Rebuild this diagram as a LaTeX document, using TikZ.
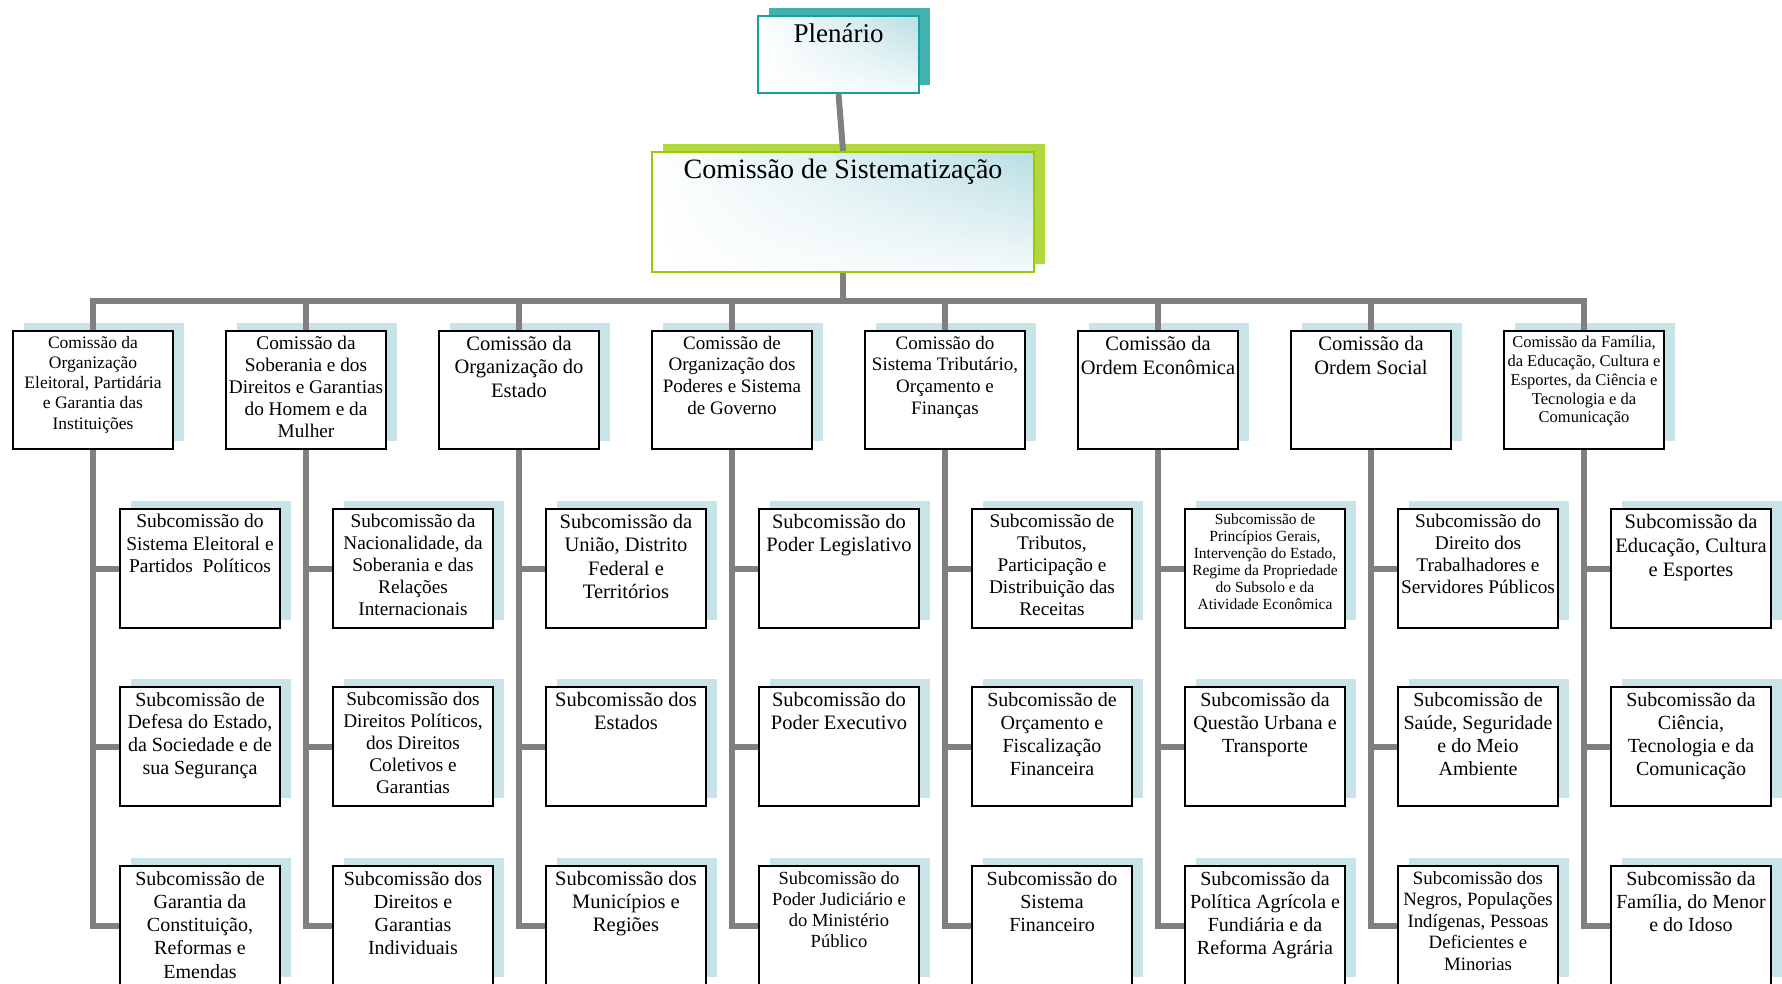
\documentclass[tikz,border=0pt]{standalone}
\usepackage{fontspec}
\setmainfont{Liberation Serif}
\usetikzlibrary{shadows,shadings}
\definecolor{linegray}{HTML}{808080}
\definecolor{csh}{HTML}{C8E4E8}
\definecolor{plensh}{HTML}{40B2B2}
\definecolor{plenbd}{HTML}{18A0A0}
\definecolor{sistsh}{HTML}{B2D840}
\definecolor{sistbd}{HTML}{99CC00}
\definecolor{tealfill}{HTML}{B8DEE3}
\newcommand\mkbox[6]{%
  \node[#2] (#1) at (#3,#4) {};
  \node[txt, font=#5, anchor=north] (#1t) at ([yshift=-6pt]#1.north) {#6};
}
\newcommand\fsz[2]{\fontsize{#1}{#2}\selectfont}
\begin{document}
\begin{tikzpicture}[x=1pt,y=-1pt,
  conn/.style={draw=linegray, line width=6pt},
  txt/.style={inner sep=0pt, align=center, text=black},
  commbox/.style={rectangle, draw=black, line width=2pt, fill=white,
    minimum width=160pt, minimum height=118pt, inner sep=0pt,
    drop shadow={shadow xshift=11pt, shadow yshift=8pt, fill=csh, opacity=1}},
  subbox/.style={rectangle, draw=black, line width=2pt, fill=white,
    minimum width=160pt, minimum height=119pt, inner sep=0pt,
    drop shadow={shadow xshift=11pt, shadow yshift=8pt, fill=csh, opacity=1}},
  gradfill/.style={path picture={\shade[upper left=white, upper right=tealfill,
      lower left=white, lower right=white!85!tealfill]
      (path picture bounding box.south west) rectangle (path picture bounding box.north east);}},
  plenbox/.style={rectangle, draw=plenbd, line width=2.3pt, fill=white, gradfill,
    minimum width=161pt, minimum height=77pt, inner sep=0pt,
    drop shadow={shadow xshift=11pt, shadow yshift=8pt, fill=plensh, opacity=1}},
  sistbox/.style={rectangle, draw=sistbd, line width=2.5pt, fill=white, gradfill,
    minimum width=382pt, minimum height=120pt, inner sep=0pt,
    drop shadow={shadow xshift=11pt, shadow yshift=8pt, fill=sistsh, opacity=1}},
]
\useasboundingbox (0,0) rectangle (1782,984);

% top
\node[plenbox] (plen) at (838.5,54.5) {};
\node[txt, font=\fsz{27}{31}, anchor=north] (plent) at ([yshift=-9pt]plen.north) {Plenário};
\node[sistbox] (sist) at (843,212) {};
\node[txt, font=\fsz{28}{32}, anchor=north] (sistt) at ([yshift=-8pt]sist.north) {Comissão de Sistematização};

% commissions
\mkbox{c1}{commbox}{93}{390}{\fsz{17.5}{20.2}}{Comissão da\\Organização\\Eleitoral, Partidária\\e Garantia das\\Instituições}
\mkbox{c2}{commbox}{306}{390}{\fsz{19.3}{21.9}}{Comissão da\\Soberania e dos\\Direitos e Garantias\\do Homem e da\\Mulher}
\mkbox{c3}{commbox}{519}{390}{\fsz{20.5}{23.3}}{Comissão da\\Organização do\\Estado}
\mkbox{c4}{commbox}{732}{390}{\fsz{19}{21.6}}{Comissão de\\Organização dos\\Poderes e Sistema\\de Governo}
\mkbox{c5}{commbox}{945}{390}{\fsz{19}{21.6}}{Comissão do\\Sistema Tributário,\\Orçamento e\\Finanças}
\mkbox{c6}{commbox}{1158}{390}{\fsz{20.5}{23.9}}{Comissão da\\Ordem Econômica}
\mkbox{c7}{commbox}{1371}{390}{\fsz{20.5}{23.9}}{Comissão da\\Ordem Social}
\mkbox{c8}{commbox}{1584}{390}{\fsz{16.5}{18.8}}{Comissão da Família,\\da Educação, Cultura e\\Esportes, da Ciência e\\Tecnologia e da\\Comunicação}

% subcommissions
\mkbox{s11}{subbox}{200}{568.5}{\fsz{19.5}{22.3}}{Subcomissão do\\Sistema Eleitoral e\\Partidos\ \ Políticos}
\mkbox{s12}{subbox}{200}{746.5}{\fsz{20}{22.9}}{Subcomissão de\\Defesa do Estado,\\da Sociedade e de\\sua Segurança}
\mkbox{s13}{subbox}{200}{925.5}{\fsz{20}{23.3}}{Subcomissão de\\Garantia da\\Constituição,\\Reformas e\\Emendas}

\mkbox{s21}{subbox}{413}{568.5}{\fsz{19.3}{22}}{Subcomissão da\\Nacionalidade, da\\Soberania e das\\Relações\\Internacionais}
\mkbox{s22}{subbox}{413}{746.5}{\fsz{19.3}{21.9}}{Subcomissão dos\\Direitos Políticos,\\dos Direitos\\Coletivos e\\Garantias}
\mkbox{s23}{subbox}{413}{925.5}{\fsz{20}{23}}{Subcomissão dos\\Direitos e\\Garantias\\Individuais}

\mkbox{s31}{subbox}{626}{568.5}{\fsz{20.5}{23.3}}{Subcomissão da\\União, Distrito\\Federal e\\Territórios}
\mkbox{s32}{subbox}{626}{746.5}{\fsz{20.5}{23}}{Subcomissão dos\\Estados}
\mkbox{s33}{subbox}{626}{925.5}{\fsz{20.5}{23}}{Subcomissão dos\\Municípios e\\Regiões}

\mkbox{s41}{subbox}{839}{568.5}{\fsz{20.5}{23.3}}{Subcomissão do\\Poder Legislativo}
\mkbox{s42}{subbox}{839}{746.5}{\fsz{20.5}{23}}{Subcomissão do\\Poder Executivo}
\mkbox{s43}{subbox}{839}{925.5}{\fsz{18.5}{21}}{Subcomissão do\\Poder Judiciário e\\do Ministério\\Público}

\mkbox{s51}{subbox}{1052}{568.5}{\fsz{19.3}{22}}{Subcomissão de\\Tributos,\\Participação e\\Distribuição das\\Receitas}
\mkbox{s52}{subbox}{1052}{746.5}{\fsz{20}{23}}{Subcomissão de\\Orçamento e\\Fiscalização\\Financeira}
\mkbox{s53}{subbox}{1052}{925.5}{\fsz{20}{23}}{Subcomissão do\\Sistema\\Financeiro}

\mkbox{s61}{subbox}{1265}{568.5}{\fsz{15.5}{17}}{Subcomissão de\\Princípios Gerais,\\Intervenção do Estado,\\Regime da Propriedade\\do Subsolo e da\\Atividade Econômica}
\mkbox{s62}{subbox}{1265}{746.5}{\fsz{20}{23.3}}{Subcomissão da\\Questão Urbana e\\Transporte}
\mkbox{s63}{subbox}{1265}{925.5}{\fsz{20}{23}}{Subcomissão da\\Política Agrícola e\\Fundiária e da\\Reforma Agrária}

\mkbox{s71}{subbox}{1478}{568.5}{\fsz{19.3}{22}}{Subcomissão do\\Direito dos\\Trabalhadores e\\Servidores Públicos}
\mkbox{s72}{subbox}{1478}{746.5}{\fsz{20}{23}}{Subcomissão de\\Saúde, Seguridade\\e do Meio\\Ambiente}
\mkbox{s73}{subbox}{1478}{925.5}{\fsz{18.8}{21.5}}{Subcomissão dos\\Negros, Populações\\Indígenas, Pessoas\\Deficientes e\\Minorias}

\mkbox{s81}{subbox}{1691}{568.5}{\fsz{20.5}{23.8}}{Subcomissão da\\Educação, Cultura\\e Esportes}
\mkbox{s82}{subbox}{1691}{746.5}{\fsz{20}{23}}{Subcomissão da\\Ciência,\\Tecnologia e da\\Comunicação}
\mkbox{s83}{subbox}{1691}{925.5}{\fsz{20}{23}}{Subcomissão da\\Família, do Menor\\e do Idoso}

% connectors
\coordinate (bus) at (0,301);
\draw[conn] (plen.south) -- (sist.north);
\draw[conn] (sist.south) -- (sist.south |- bus);
\draw[conn] (c1.north) -- (c1.north |- bus) -- (c8.north |- bus) -- (c8.north);
\foreach \i in {2,...,7} {\draw[conn] (c\i.north |- bus) -- (c\i.north);}
\foreach \i in {1,...,8} {
  \draw[conn] (c\i.south) |- (s\i3.west);
  \draw[conn] (c\i.south |- s\i1.west) -- (s\i1.west);
  \draw[conn] (c\i.south |- s\i2.west) -- (s\i2.west);
}
\end{tikzpicture}
\end{document}
